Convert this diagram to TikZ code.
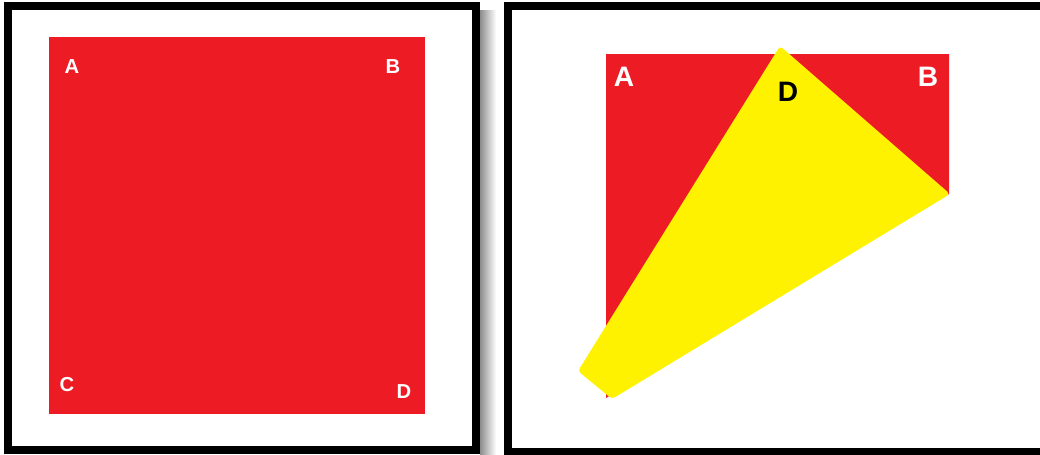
\documentclass[tikz,border=0pt]{standalone}
\usepackage{fontspec}
\setmainfont{Liberation Sans}
\definecolor{SquareRed}{HTML}{ED1C24}
\definecolor{FoldYellow}{HTML}{FFF200}

\begin{document}
\begin{tikzpicture}[x=0.02cm,y=-0.02cm]
  \useasboundingbox (0,0) rectangle (1040,454);
  \clip (0,0) rectangle (1040,454);
  \tikzset{FrameStyle/.style = {draw          = black,
                                line width    = 0.16cm}}

  \tikzset{CornerStyle/.style = {text         = white,
                                 font         = \fontsize{11.5}{13}\selectfont\bfseries,
                                 inner sep    = 0pt}}

  \tikzset{FoldStyle/.style = {font           = \fontsize{16}{18}\selectfont\bfseries,
                               inner sep      = 0pt}}

  % shadow and frames
  \shade[left color=black!45, right color=white] (480,10) rectangle (496,454);
  \draw[FrameStyle] (8,6) rectangle (476,450);
  \draw[FrameStyle] (508,6) rectangle (1060,452);

  % flat square
  \fill[SquareRed] (49,37) rectangle (425,414);
     \node[CornerStyle] (A_1) at (72,67) {A};
     \node[CornerStyle] (B_1) at (393,67) {B};
     \node[CornerStyle] (C_1) at (67,385) {C};
     \node[CornerStyle] (D_1) at (404,392) {D};

  % folded square
  \coordinate (F_1) at (780,46);
  \coordinate (F_2) at (950,194);
  \coordinate (F_3) at (612,399);
  \coordinate (F_4) at (578,371);
  \fill[SquareRed] (606,54) -- (949,54) -- (949,194) -- (606,398) -- cycle;
  \fill[FoldYellow, rounded corners=2pt] (F_1) -- (F_2) -- (F_3) -- (F_4) -- cycle;
     \node[CornerStyle, font=\fontsize{16}{18}\selectfont\bfseries] (A_2) at (624,77) {A};
     \node[CornerStyle, font=\fontsize{16}{18}\selectfont\bfseries] (B_2) at (928,77) {B};
     \node[FoldStyle] (D_2) at (788,92) {D};
\end{tikzpicture}
\end{document}
